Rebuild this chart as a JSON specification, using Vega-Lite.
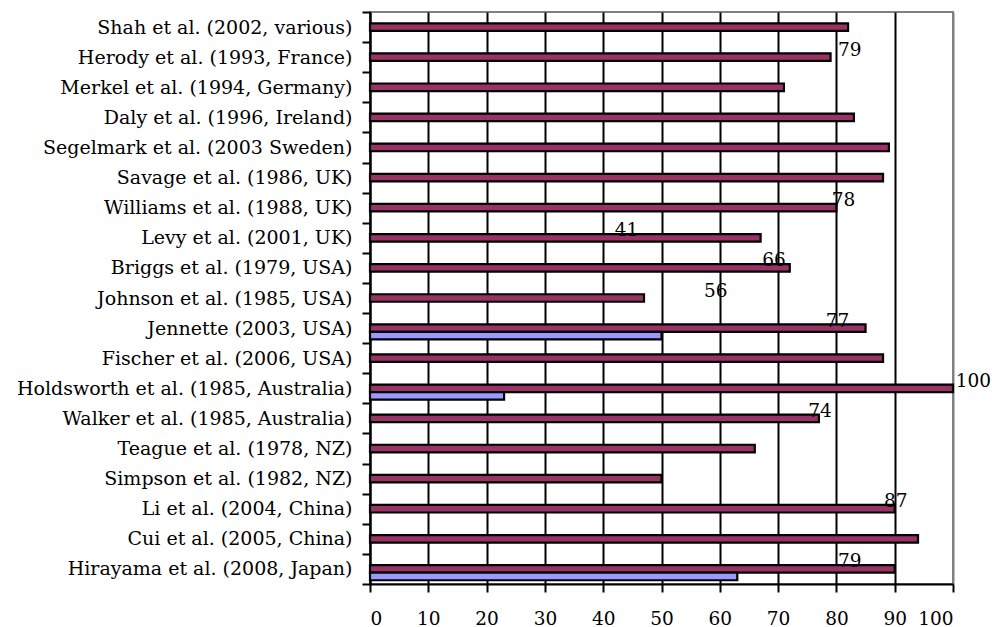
{
  "$schema": "https://vega.github.io/schema/vega-lite/v6.json",
  "width": 583,
  "height": 572,
  "autosize": "none",
  "padding": {"left": 370, "top": 12, "right": 39, "bottom": 43},
  "background": "white",
  "config": {
    "view": {"stroke": "#808080", "strokeWidth": 2},
    "font": "DejaVu Serif"
  },
  "datasets": {
    "bars": [
      {"study": "Shah et al. (2002, various)", "series": "A", "value": 82},
      {"study": "Herody et al. (1993, France)", "series": "A", "value": 79},
      {"study": "Merkel et al. (1994, Germany)", "series": "A", "value": 71},
      {"study": "Daly et al. (1996, Ireland)", "series": "A", "value": 83},
      {"study": "Segelmark et al. (2003 Sweden)", "series": "A", "value": 89},
      {"study": "Savage et al. (1986, UK)", "series": "A", "value": 88},
      {"study": "Williams et al. (1988, UK)", "series": "A", "value": 80},
      {"study": "Levy et al. (2001, UK)", "series": "A", "value": 67},
      {"study": "Briggs et al. (1979, USA)", "series": "A", "value": 72},
      {"study": "Johnson et al. (1985, USA)", "series": "A", "value": 47},
      {"study": "Jennette (2003, USA)", "series": "A", "value": 85},
      {"study": "Jennette (2003, USA)", "series": "B", "value": 50},
      {"study": "Fischer et al. (2006, USA)", "series": "A", "value": 88},
      {"study": "Holdsworth et al. (1985, Australia)", "series": "A", "value": 100},
      {"study": "Holdsworth et al. (1985, Australia)", "series": "B", "value": 23},
      {"study": "Walker et al. (1985, Australia)", "series": "A", "value": 77},
      {"study": "Teague et al. (1978, NZ)", "series": "A", "value": 66},
      {"study": "Simpson et al. (1982, NZ)", "series": "A", "value": 50},
      {"study": "Li et al. (2004, China)", "series": "A", "value": 90},
      {"study": "Cui et al. (2005, China)", "series": "A", "value": 94},
      {"study": "Hirayama et al. (2008, Japan)", "series": "A", "value": 90},
      {"study": "Hirayama et al. (2008, Japan)", "series": "B", "value": 63}
    ],
    "labels": [
      {"study": "Herody et al. (1993, France)", "label": "79", "at": 82.3},
      {"study": "Williams et al. (1988, UK)", "label": "78", "at": 81.2},
      {"study": "Levy et al. (2001, UK)", "label": "41", "at": 44.0},
      {"study": "Briggs et al. (1979, USA)", "label": "66", "at": 69.3},
      {"study": "Johnson et al. (1985, USA)", "label": "56", "at": 59.3},
      {"study": "Jennette (2003, USA)", "label": "77", "at": 80.2},
      {"study": "Holdsworth et al. (1985, Australia)", "label": "100", "at": 103.5},
      {"study": "Walker et al. (1985, Australia)", "label": "74", "at": 77.2},
      {"study": "Li et al. (2004, China)", "label": "87", "at": 90.2},
      {"study": "Hirayama et al. (2008, Japan)", "label": "79", "at": 82.3}
    ]
  },
  "encoding": {
    "y": {
      "field": "study",
      "type": "nominal",
      "sort": [
        "Shah et al. (2002, various)",
        "Herody et al. (1993, France)",
        "Merkel et al. (1994, Germany)",
        "Daly et al. (1996, Ireland)",
        "Segelmark et al. (2003 Sweden)",
        "Savage et al. (1986, UK)",
        "Williams et al. (1988, UK)",
        "Levy et al. (2001, UK)",
        "Briggs et al. (1979, USA)",
        "Johnson et al. (1985, USA)",
        "Jennette (2003, USA)",
        "Fischer et al. (2006, USA)",
        "Holdsworth et al. (1985, Australia)",
        "Walker et al. (1985, Australia)",
        "Teague et al. (1978, NZ)",
        "Simpson et al. (1982, NZ)",
        "Li et al. (2004, China)",
        "Cui et al. (2005, China)",
        "Hirayama et al. (2008, Japan)"
      ],
      "scale": {"paddingInner": 0, "paddingOuter": 0},
      "axis": {
        "title": null,
        "domainColor": "black",
        "domainWidth": 2,
        "tickColor": "black",
        "tickWidth": 2,
        "tickSize": 8,
        "tickBand": "extent",
        "labelFontSize": 19,
        "labelColor": "black",
        "labelPadding": 10,
        "labelLimit": 0,
        "labelFont": "DejaVu Serif"
      }
    }
  },
  "layer": [
    {
      "data": {"name": "bars"},
      "mark": {"type": "bar", "stroke": "black", "strokeWidth": 2.2},
      "encoding": {
        "x": {
          "field": "value",
          "type": "quantitative",
          "scale": {"domain": [0, 100], "nice": false},
          "axis": {
            "title": null,
            "values": [0, 10, 20, 30, 40, 50, 60, 70, 80, 90, 100],
            "domainColor": "black",
            "domainWidth": 2,
            "tickColor": "black",
            "tickWidth": 2,
            "tickSize": 8,
            "grid": true,
            "gridColor": {"condition": {"test": "datum.value === 100", "value": "#808080"}, "value": "black"},
            "gridWidth": 2,
            "gridOpacity": 1,
            "labelFontSize": 18.5,
            "labelColor": "black",
            "labelPadding": 17,
            "labelFont": "DejaVu Serif"
          }
        },
        "yOffset": {
          "field": "series",
          "type": "nominal",
          "scale": {"domain": ["pad", "A", "B"], "paddingInner": 0, "paddingOuter": 0.5}
        },
        "color": {
          "field": "series",
          "type": "nominal",
          "scale": {"domain": ["A", "B"], "range": ["#993366", "#9999FF"]},
          "legend": null
        }
      }
    },
    {
      "data": {"name": "labels"},
      "mark": {"type": "text", "fontSize": 18.5, "align": "center", "baseline": "middle", "dy": -7.5, "color": "black", "font": "DejaVu Serif"},
      "encoding": {
        "x": {"field": "at", "type": "quantitative"},
        "text": {"field": "label"}
      }
    }
  ]
}
